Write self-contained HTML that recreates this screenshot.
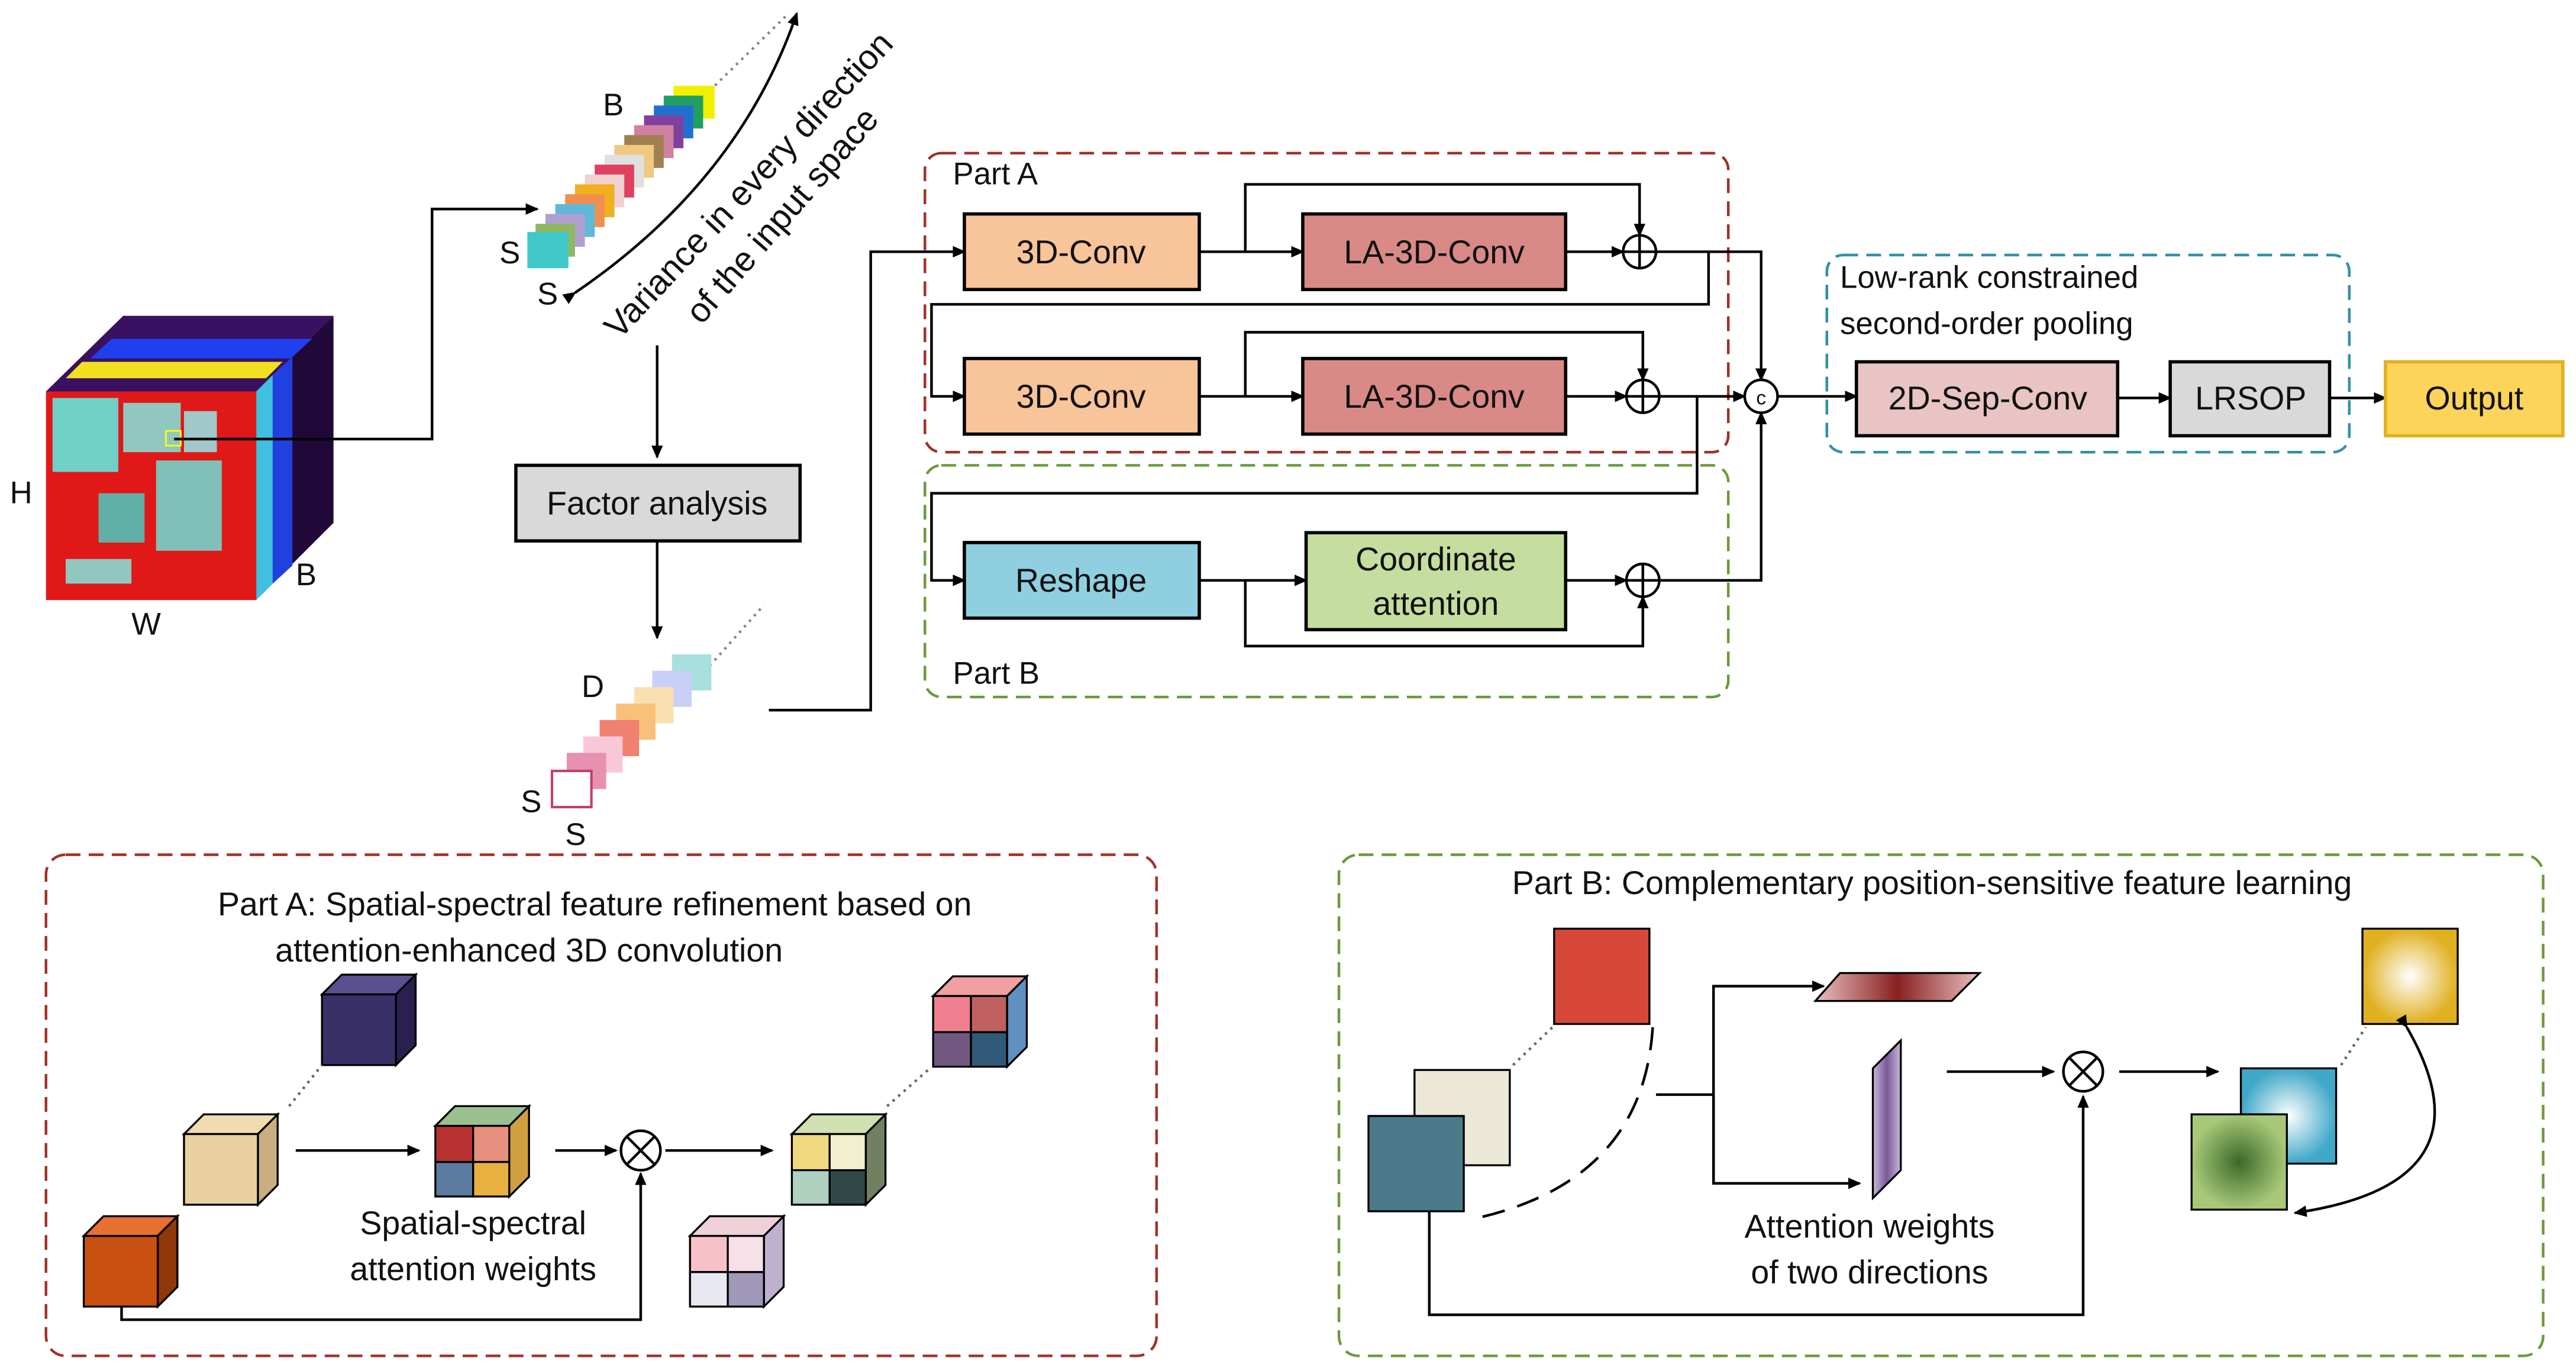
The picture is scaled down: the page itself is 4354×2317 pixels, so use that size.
<!DOCTYPE html>
<html><head><meta charset="utf-8"><style>
html,body{margin:0;padding:0;background:#fff;}
svg{display:block;}
text{font-family:"Liberation Sans",sans-serif;fill:#111;}
</style></head><body>
<svg width="4354" height="2317" viewBox="0 0 1568 834" xmlns="http://www.w3.org/2000/svg">
<defs>
<marker id="a" markerWidth="8" markerHeight="8" refX="7" refY="4" orient="auto" markerUnits="userSpaceOnUse"><path d="M0,0.5 L8,4 L0,7.5 Z" fill="#000"/></marker>
<radialGradient id="g1"><stop offset="0" stop-color="#fff"/><stop offset="1" stop-color="#e0b020"/></radialGradient>
<radialGradient id="g2"><stop offset="0" stop-color="#fff"/><stop offset="1" stop-color="#40a8c8"/></radialGradient>
<radialGradient id="g3"><stop offset="0" stop-color="#3a6a2a"/><stop offset="1" stop-color="#a8c878"/></radialGradient>
<linearGradient id="gp" x1="0" x2="1"><stop offset="0" stop-color="#c8b8d8"/><stop offset="0.5" stop-color="#7a5a9a"/><stop offset="1" stop-color="#c8b8d8"/></linearGradient>
<linearGradient id="gr" x1="0" x2="1"><stop offset="0" stop-color="#e8c0c0"/><stop offset="0.5" stop-color="#8a2020"/><stop offset="1" stop-color="#e8c0c0"/></linearGradient>
</defs>
<g stroke-width="1.6" fill="none" stroke="#000">
<!-- HSI cube -->
<polygon points="28,238 75,192 203,192 156,238" fill="#3a1060" stroke="none"/>
<polygon points="156,238 203,192 203,318 156,365" fill="#200838" stroke="none"/>
<polygon points="55,218 68,206 190,206 177,218" fill="#2040f0" stroke="none"/>
<polygon points="40,230 50,220 172,220 162,230" fill="#f0e020" stroke="none"/>
<polygon points="156,238 166,228 166,355 156,365" fill="#40c0e0" stroke="none"/>
<polygon points="166,228 178,217 178,344 166,355" fill="#2040e0" stroke="none"/>
<rect x="28" y="238" width="128" height="127" fill="#e01818" stroke="none"/>
<rect x="32" y="242" width="40" height="45" fill="#70d0c8" stroke="none"/>
<rect x="75" y="245" width="35" height="30" fill="#90c8c0" stroke="none"/>
<rect x="95" y="280" width="40" height="55" fill="#80c0b8" stroke="none"/>
<rect x="60" y="300" width="28" height="30" fill="#60b0a8" stroke="none"/>
<rect x="112" y="250" width="20" height="25" fill="#a0c8c8" stroke="none"/>
<rect x="40" y="340" width="40" height="15" fill="#90c8c0" stroke="none"/>
<rect x="101" y="262" width="9" height="9" fill="none" stroke="#ff0" stroke-width="1"/>
<!-- arrows -->
<polyline points="106,267 263,267 263,127 327,127" marker-end="url(#a)"/>
<path d="M350,178 Q450,110 485,8" marker-end="url(#a)" marker-start="url(#a)"/>
<line x1="400" y1="210" x2="400" y2="278" marker-end="url(#a)"/>
<line x1="400" y1="329" x2="400" y2="388" marker-end="url(#a)"/>
<polyline points="468,432 530,432 530,153 587,153" marker-end="url(#a)"/>
<line x1="432" y1="55" x2="480" y2="8" stroke="#888" stroke-dasharray="1.5 3"/>
<line x1="432" y1="405" x2="465" y2="368" stroke="#888" stroke-dasharray="1.5 3"/>
</g>
<!-- band stack -->
<g stroke="none">
<rect x="410" y="52" width="25" height="20" fill="#f0f000"/>
<rect x="404" y="58" width="24" height="20" fill="#20a060"/>
<rect x="398" y="64" width="24" height="20" fill="#2070d0"/>
<rect x="392" y="70" width="24" height="20" fill="#8040a0"/>
<rect x="386" y="76" width="24" height="20" fill="#d080a0"/>
<rect x="380" y="82" width="24" height="20" fill="#a08050"/>
<rect x="374" y="88" width="24" height="20" fill="#f0c880"/>
<rect x="368" y="94" width="24" height="20" fill="#e0e0e0"/>
<rect x="362" y="100" width="24" height="20" fill="#e04060"/>
<rect x="356" y="106" width="24" height="20" fill="#f0d0d0"/>
<rect x="350" y="112" width="24" height="20" fill="#f0b020"/>
<rect x="344" y="118" width="24" height="20" fill="#f09050"/>
<rect x="338" y="124" width="24" height="20" fill="#60b8d8"/>
<rect x="332" y="130" width="24" height="20" fill="#b0a0d0"/>
<rect x="326" y="136" width="24" height="20" fill="#90b860"/>
<rect x="321" y="141" width="25" height="22" fill="#40c8c8"/>
<!-- D stack -->
<rect x="409" y="398" width="24" height="22" fill="#a8e0e0"/>
<rect x="397" y="408" width="24" height="22" fill="#c8d0f8"/>
<rect x="386" y="418" width="24" height="22" fill="#fae0b0"/>
<rect x="375" y="428" width="24" height="22" fill="#f8c078"/>
<rect x="365" y="438" width="24" height="22" fill="#f08070"/>
<rect x="355" y="448" width="24" height="22" fill="#f8c8d8"/>
<rect x="345" y="458" width="24" height="22" fill="#e890b0"/>
<rect x="336" y="469" width="24" height="22" fill="#fff" stroke="#c04070" stroke-width="1.5"/>
</g>
<g font-size="19">
<text x="367" y="70">B</text><text x="304" y="160">S</text><text x="327" y="185">S</text>
<text x="6" y="306">H</text><text x="180" y="356">B</text><text x="80" y="386">W</text>
<text x="354" y="424">D</text><text x="317" y="494">S</text><text x="344" y="514">S</text>
<text transform="translate(377,207) rotate(-47)" font-size="21">Variance in every direction</text>
<text transform="translate(427,198) rotate(-49)" font-size="21">of the input space</text>
</g>
<rect x="314" y="283" width="173" height="46" fill="#d9d9d9" stroke="#000" stroke-width="2"/>
<text x="400" y="313" font-size="20" text-anchor="middle">Factor analysis</text>
<!-- Part A / B dashed -->
<rect x="563" y="93" width="489" height="182" rx="10" fill="none" stroke="#a03028" stroke-width="1.6" stroke-dasharray="9 5"/>
<rect x="563" y="283" width="489" height="141" rx="10" fill="none" stroke="#6a9a3a" stroke-width="1.6" stroke-dasharray="9 5"/>
<rect x="1112" y="155" width="318" height="120" rx="10" fill="none" stroke="#3090a8" stroke-width="1.6" stroke-dasharray="9 5"/>
<text x="580" y="112" font-size="19">Part A</text><text x="580" y="416" font-size="19">Part B</text>
<text x="1120" y="175" font-size="19">Low-rank constrained</text><text x="1120" y="203" font-size="19">second-order pooling</text>
<g stroke="#000" stroke-width="1.6" fill="none">
<polyline points="730,153 793,153" marker-end="url(#a)"/>
<polyline points="758,153 758,112 998,112 998,143" marker-end="url(#a)"/>
<line x1="953" y1="153" x2="988" y2="153" marker-end="url(#a)"/>
<polyline points="1008,153 1072,153 1072,231" marker-end="url(#a)"/>
<polyline points="1040,153 1040,185 567,185 567,241 587,241" marker-end="url(#a)"/>
<polyline points="730,241 793,241" marker-end="url(#a)"/>
<polyline points="758,241 758,202 1000,202 1000,231" marker-end="url(#a)"/>
<line x1="953" y1="241" x2="990" y2="241" marker-end="url(#a)"/>
<line x1="1010" y1="241" x2="1062" y2="241" marker-end="url(#a)"/>
<polyline points="1033,241 1033,300 567,300 567,353 587,353" marker-end="url(#a)"/>
<line x1="730" y1="353" x2="795" y2="353" marker-end="url(#a)"/>
<polyline points="758,353 758,393 1000,393 1000,363" marker-end="url(#a)"/>
<line x1="953" y1="353" x2="990" y2="353" marker-end="url(#a)"/>
<polyline points="1010,353 1072,353 1072,251" marker-end="url(#a)"/>
<line x1="1082" y1="241" x2="1130" y2="241" marker-end="url(#a)"/>
<line x1="1289" y1="242" x2="1321" y2="242" marker-end="url(#a)"/>
<line x1="1418" y1="242" x2="1452" y2="242" marker-end="url(#a)"/>
<circle cx="998" cy="153" r="10" fill="#fff"/><path d="M988,153h20M998,143v20"/>
<circle cx="1000" cy="241" r="10" fill="#fff"/><path d="M990,241h20M1000,231v20"/>
<circle cx="1000" cy="353" r="10" fill="#fff"/><path d="M990,353h20M1000,343v20"/>
<circle cx="1072" cy="241" r="10" fill="#fff"/>
</g>
<text x="1072" y="246" font-size="12" text-anchor="middle">c</text>
<g stroke="#000" stroke-width="2">
<rect x="587" y="130" width="143" height="46" fill="#f8c49a"/><rect x="793" y="130" width="160" height="46" fill="#d98a86"/>
<rect x="587" y="218" width="143" height="46" fill="#f8c49a"/><rect x="793" y="218" width="160" height="46" fill="#d98a86"/>
<rect x="587" y="330" width="143" height="46" fill="#8fcfe0"/><rect x="795" y="324" width="158" height="59" fill="#c5dd9e"/>
<rect x="1130" y="220" width="159" height="45" fill="#e8c4c4"/><rect x="1321" y="220" width="97" height="45" fill="#d9d9d9"/>
<rect x="1452" y="220" width="108" height="45" fill="#fcd45a" stroke="#e0b020"/>
</g>
<g font-size="20" text-anchor="middle">
<text x="658" y="160">3D-Conv</text><text x="873" y="160">LA-3D-Conv</text>
<text x="658" y="248">3D-Conv</text><text x="873" y="248">LA-3D-Conv</text>
<text x="658" y="360">Reshape</text><text x="874" y="347">Coordinate</text><text x="874" y="374">attention</text>
<text x="1210" y="249">2D-Sep-Conv</text><text x="1370" y="249">LRSOP</text><text x="1506" y="249">Output</text>
</g>
<!-- bottom boxes -->
<rect x="28" y="520" width="676" height="305" rx="12" fill="none" stroke="#a03028" stroke-width="1.6" stroke-dasharray="9 5"/>
<rect x="815" y="520" width="733" height="305" rx="12" fill="none" stroke="#6a9a3a" stroke-width="1.6" stroke-dasharray="9 5"/>
<text x="362" y="557" font-size="20" text-anchor="middle">Part A: Spatial-spectral feature refinement based on</text>
<text x="322" y="585" font-size="20" text-anchor="middle">attention-enhanced 3D convolution</text>
<text x="1176" y="544" font-size="20" text-anchor="middle">Part B: Complementary position-sensitive feature learning</text>
<!-- Part A cubes -->
<g stroke="#000" stroke-width="1.2">
<polygon points="196,605 208,593 253,593 241,605" fill="#5a5090"/><polygon points="241,605 253,593 253,636 241,648" fill="#2a2050"/><rect x="196" y="605" width="45" height="43" fill="#3a3068"/>
<polygon points="112,690 124,678 169,678 157,690" fill="#f0dcb0"/><polygon points="157,690 169,678 169,721 157,733" fill="#c8ae80"/><rect x="112" y="690" width="45" height="43" fill="#e8d0a0"/>
<polygon points="51,752 63,740 108,740 96,752" fill="#e87030"/><polygon points="96,752 108,740 108,783 96,795" fill="#903808"/><rect x="51" y="752" width="45" height="43" fill="#c85010"/>
<polygon points="265,685 277,673 322,673 310,685" fill="#9ac090"/><polygon points="310,685 322,673 322,716 310,728" fill="#d0a040"/>
<rect x="265" y="685" width="23" height="22" fill="#b83030"/><rect x="288" y="685" width="22" height="22" fill="#e89080"/><rect x="265" y="707" width="23" height="21" fill="#5a7aa0"/><rect x="288" y="707" width="22" height="21" fill="#e8b040"/>
<polygon points="482,690 494,678 539,678 527,690" fill="#d0e0b0"/><polygon points="527,690 539,678 539,721 527,733" fill="#708060"/>
<rect x="482" y="690" width="23" height="22" fill="#f0d880"/><rect x="505" y="690" width="22" height="22" fill="#f0f0d0"/><rect x="482" y="712" width="23" height="21" fill="#b0d0c0"/><rect x="505" y="712" width="22" height="21" fill="#304848"/>
<polygon points="568,606 580,594 625,594 613,606" fill="#f0a0a0"/><polygon points="613,606 625,594 625,637 613,649" fill="#6090c0"/>
<rect x="568" y="606" width="23" height="22" fill="#f08090"/><rect x="591" y="606" width="22" height="22" fill="#c06060"/><rect x="568" y="628" width="23" height="21" fill="#705880"/><rect x="591" y="628" width="22" height="21" fill="#305878"/>
<polygon points="420,752 432,740 477,740 465,752" fill="#f0d0d8"/><polygon points="465,752 477,740 477,783 465,795" fill="#c0b0d0"/>
<rect x="420" y="752" width="23" height="22" fill="#f8c0c8"/><rect x="443" y="752" width="22" height="22" fill="#f8e0e8"/><rect x="420" y="774" width="23" height="21" fill="#e8e8f0"/><rect x="443" y="774" width="22" height="21" fill="#a098b8"/>
</g>
<g stroke="#000" stroke-width="1.6" fill="none">
<line x1="180" y1="700" x2="255" y2="700" marker-end="url(#a)"/>
<line x1="338" y1="700" x2="375" y2="700" marker-end="url(#a)"/>
<line x1="405" y1="700" x2="470" y2="700" marker-end="url(#a)"/>
<polyline points="74,795 74,803 390,803 390,714" marker-end="url(#a)"/>
<circle cx="390" cy="700" r="12" fill="#fff"/><path d="M382,692l16,16M398,692l-16,16"/>
<line x1="176" y1="673" x2="196" y2="648" stroke="#666" stroke-dasharray="1.5 3"/>
<line x1="540" y1="673" x2="566" y2="650" stroke="#666" stroke-dasharray="1.5 3"/>
</g>
<text x="288" y="751" font-size="20" text-anchor="middle">Spatial-spectral</text>
<text x="288" y="779" font-size="20" text-anchor="middle">attention weights</text>
<!-- Part B -->
<g stroke="#000" stroke-width="1.2">
<rect x="946" y="565" width="58" height="58" fill="#d84838"/>
<rect x="861" y="651" width="58" height="58" fill="#ece8d8"/>
<rect x="833" y="679" width="58" height="58" fill="#4a7a8a"/>
<polygon points="1120,592 1205,592 1188,609 1105,609" fill="url(#gr)"/>
<polygon points="1140,650 1157,633 1157,712 1140,729" fill="url(#gp)"/>
<rect x="1438" y="565" width="58" height="58" fill="url(#g1)"/>
<rect x="1364" y="650" width="58" height="58" fill="url(#g2)"/>
<rect x="1334" y="678" width="58" height="58" fill="url(#g3)"/>
</g>
<g stroke="#000" stroke-width="1.6" fill="none">
<path d="M1006,625 Q1000,720 895,742" stroke-dasharray="14 8"/>
<line x1="1008" y1="666" x2="1043" y2="666"/>
<polyline points="1043,720 1043,600 1110,600" marker-end="url(#a)"/>
<polyline points="1043,666 1043,720 1132,720" marker-end="url(#a)"/>
<line x1="1185" y1="652" x2="1250" y2="652" marker-end="url(#a)"/>
<line x1="1290" y1="652" x2="1350" y2="652" marker-end="url(#a)"/>
<polyline points="870,737 870,800 1268,800 1268,667" marker-end="url(#a)"/>
<circle cx="1268" cy="652" r="12" fill="#fff"/><path d="M1260,644l16,16M1276,644l-16,16"/>
<path d="M1465,625 Q1520,720 1397,738" marker-start="url(#a)" marker-end="url(#a)"/>
<line x1="921" y1="648" x2="946" y2="624" stroke="#666" stroke-dasharray="1.5 3"/>
<line x1="1425" y1="648" x2="1440" y2="625" stroke="#666" stroke-dasharray="1.5 3"/>
</g>
<text x="1138" y="753" font-size="20" text-anchor="middle">Attention weights</text>
<text x="1138" y="781" font-size="20" text-anchor="middle">of two directions</text>
</svg>
</body></html>
